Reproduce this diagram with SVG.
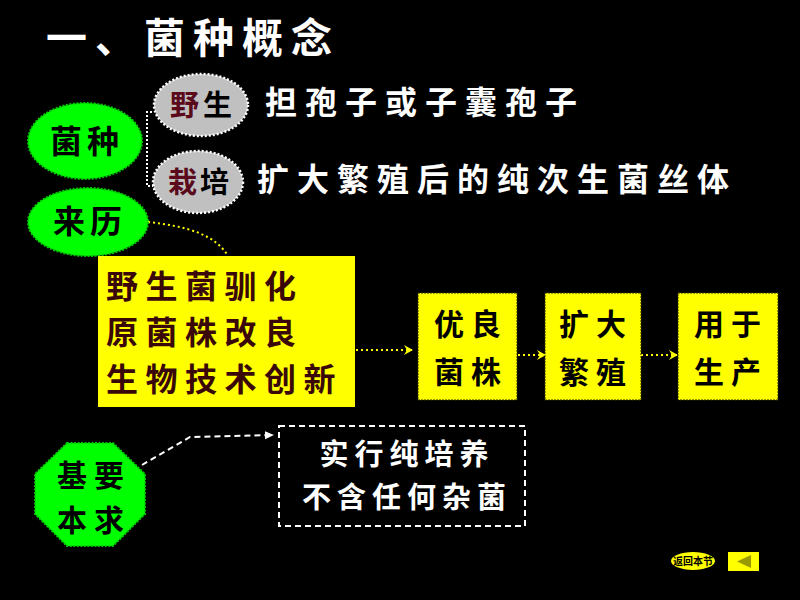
<svg xmlns="http://www.w3.org/2000/svg" width="800" height="600" viewBox="0 0 800 600">
<defs>
<style>
.cjk{font-family:"Noto Sans CJK SC","Noto Sans CJK JP",sans-serif;font-weight:bold}
.w{fill:#ffffff}
.k{fill:#000000}
.m{fill:#3a0808}
.green{fill:#00ff00;stroke:#00cc00;stroke-width:2;stroke-dasharray:2 1.5}
.gray{fill:#c0c0c0;stroke:#ffffff;stroke-width:2.5;stroke-dasharray:2 2}
.ybox{fill:#ffff00}
.ysmall{fill:#ffff00;stroke:#333300;stroke-width:1;stroke-dasharray:2 1}
.ydot{fill:none;stroke:#ffff00;stroke-width:2;stroke-dasharray:2 3}
.wdot{fill:none;stroke:#ffffff;stroke-width:2;stroke-dasharray:2 2}
.wdash{fill:none;stroke:#ffffff;stroke-width:2;stroke-dasharray:6 4}
</style>
<marker id="ya" markerWidth="10" markerHeight="10" refX="8" refY="5" orient="auto" markerUnits="userSpaceOnUse">
<path d="M0,0 L9,5 L0,10 L3,5 Z" fill="#ffff00"/>
</marker>
<marker id="wa" markerWidth="10" markerHeight="10" refX="8" refY="5" orient="auto" markerUnits="userSpaceOnUse">
<path d="M0,1 L9,5 L0,9 Z" fill="#ffffff"/>
</marker>
</defs>
<rect x="0" y="0" width="800" height="600" fill="#000000"/>

<g id="title">
<text x="46" y="53" class="cjk w" font-size="41" letter-spacing="8">一、菌种概念</text>
</g>

<g id="connectors">
<path d="M152,112 H147 V186 H153" class="wdot"/>
<path d="M148,222 C185,226 215,234 228,256" class="ydot"/>
<line x1="356" y1="350" x2="412" y2="350" class="ydot" marker-end="url(#ya)"/>
<line x1="518" y1="355" x2="545" y2="355" class="ydot" marker-end="url(#ya)"/>
<line x1="641" y1="355" x2="677" y2="355" class="ydot" marker-end="url(#ya)"/>
<path d="M142,465 L190,437 L273,435" class="wdash" marker-end="url(#wa)"/>
</g>

<g id="n-junzhong">
<ellipse cx="85" cy="141" rx="57" ry="38" class="green"/>
<text x="87" y="153" text-anchor="middle" class="cjk k" font-size="32" letter-spacing="5">菌种</text>
</g>

<g id="n-yesheng">
<ellipse cx="201" cy="105" rx="47" ry="31" class="gray"/>
<text x="203" y="116" text-anchor="middle" class="cjk" font-size="29" letter-spacing="4"><tspan fill="#5a0a1a">野</tspan><tspan fill="#000000">生</tspan></text>
</g>

<g id="n-zaipei">
<ellipse cx="198" cy="182" rx="45" ry="31" class="gray"/>
<text x="200" y="193" text-anchor="middle" class="cjk" font-size="29" letter-spacing="3"><tspan fill="#5a0a1a">栽</tspan><tspan fill="#000000">培</tspan></text>
</g>

<g id="t-yesheng">
<text x="265" y="114" class="cjk w" font-size="32" letter-spacing="8">担孢子或子囊孢子</text>
</g>
<g id="t-zaipei">
<text x="257" y="191" class="cjk w" font-size="32" letter-spacing="8">扩大繁殖后的纯次生菌丝体</text>
</g>

<g id="n-laili">
<ellipse cx="88" cy="222" rx="60" ry="34" class="green"/>
<text x="90" y="233" text-anchor="middle" class="cjk k" font-size="32" letter-spacing="5">来历</text>
</g>

<g id="n-sources">
<rect x="98" y="256" width="257" height="151" class="ybox"/>
<text x="106" y="298" class="cjk m" font-size="32" letter-spacing="7.5">野生菌驯化</text>
<text x="106" y="344" class="cjk m" font-size="32" letter-spacing="7.5">原菌株改良</text>
<text x="106" y="391" class="cjk m" font-size="32" letter-spacing="7.5">生物技术创新</text>
</g>

<g id="n-youliang">
<rect x="418" y="293" width="99" height="107" class="ysmall"/>
<text x="471" y="335" text-anchor="middle" class="cjk k" font-size="30" letter-spacing="7">优良</text>
<text x="471" y="383" text-anchor="middle" class="cjk k" font-size="30" letter-spacing="7">菌株</text>
</g>

<g id="n-kuoda">
<rect x="545" y="293" width="96" height="107" class="ysmall"/>
<text x="596" y="335" text-anchor="middle" class="cjk k" font-size="30" letter-spacing="7">扩大</text>
<text x="596" y="383" text-anchor="middle" class="cjk k" font-size="30" letter-spacing="7">繁殖</text>
</g>

<g id="n-yongyu">
<rect x="678" y="293" width="100" height="107" class="ysmall"/>
<text x="731" y="335" text-anchor="middle" class="cjk k" font-size="30" letter-spacing="7">用于</text>
<text x="731" y="383" text-anchor="middle" class="cjk k" font-size="30" letter-spacing="7">生产</text>
</g>

<g id="n-jiben">
<polygon points="67,443 113,443 145,474 145,514 113,546 67,546 35,514 35,474" class="green"/>
<text x="94" y="486" text-anchor="middle" class="cjk k" font-size="30" letter-spacing="7">基要</text>
<text x="94" y="531" text-anchor="middle" class="cjk k" font-size="30" letter-spacing="7">本求</text>
</g>

<g id="n-pure">
<rect x="279" y="426" width="246" height="100" class="wdash"/>
<text x="407" y="465" text-anchor="middle" class="cjk w" font-size="29" letter-spacing="6">实行纯培养</text>
<text x="407" y="508" text-anchor="middle" class="cjk w" font-size="29" letter-spacing="6">不含任何杂菌</text>
</g>

<g id="n-back">
<ellipse cx="693" cy="561" rx="22" ry="9" fill="#ffff00"/>
<text x="693" y="565" text-anchor="middle" class="cjk k" font-size="10" font-weight="normal">返回本节</text>
</g>
<g id="n-prev">
<rect x="728" y="552" width="31" height="19" fill="#ffff00"/>
<polygon points="737,561.5 751,555 751,568" fill="#999900"/>
</g>
</svg>
